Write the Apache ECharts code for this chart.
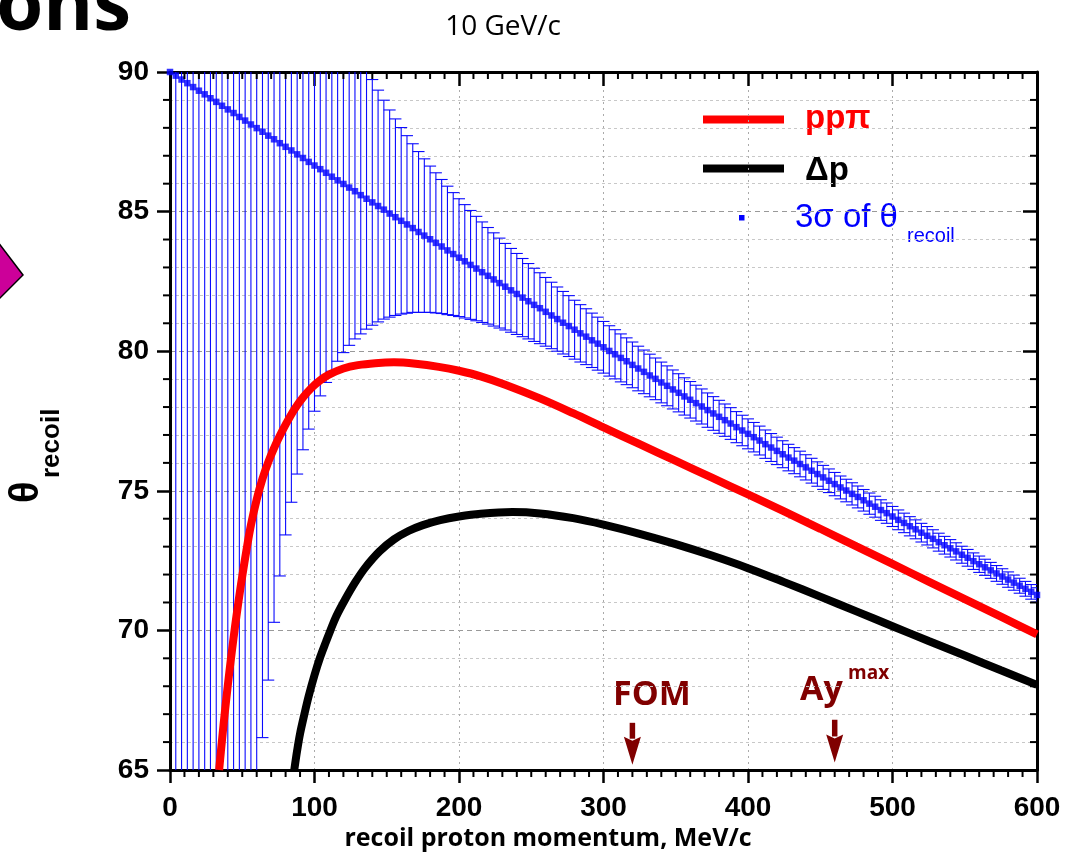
<!DOCTYPE html>
<html><head><meta charset="utf-8">
<script src="https://cdn.jsdelivr.net/npm/echarts@6/dist/echarts.min.js"></script>
<style>html,body{margin:0;padding:0;background:#fff}#c{width:1065px;height:856px}</style>
</head><body><div id="c"></div>
<script>
// ---- data ----
const momentumP = [
  0,4,8,12,16,20,24,28,32,36,
  40,44,48,52,56,60,64,68,72,76,
  80,84,88,92,96,100,104,108,112,116,
  120,124,128,132,136,140,144,148,152,156,
  160,164,168,172,176,180,184,188,192,196,
  200,204,208,212,216,220,224,228,232,236,
  240,244,248,252,256,260,264,268,272,276,
  280,284,288,292,296,300,304,308,312,316,
  320,324,328,332,336,340,344,348,352,356,
  360,364,368,372,376,380,384,388,392,396,
  400,404,408,412,416,420,424,428,432,436,
  440,444,448,452,456,460,464,468,472,476,
  480,484,488,492,496,500,504,508,512,516,
  520,524,528,532,536,540,544,548,552,556,
  560,564,568,572,576,580,584,588,592,596,
  600];
const elasticTheta = [
  90.00,89.87,89.73,89.60,89.46,89.33,89.20,89.06,88.93,88.79,
  88.66,88.53,88.39,88.26,88.12,87.99,87.86,87.72,87.59,87.45,
  87.32,87.19,87.05,86.92,86.78,86.65,86.52,86.39,86.25,86.12,
  85.99,85.86,85.73,85.59,85.46,85.33,85.20,85.07,84.93,84.80,
  84.67,84.54,84.41,84.27,84.14,84.01,83.88,83.75,83.61,83.48,
  83.35,83.22,83.09,82.96,82.83,82.70,82.57,82.44,82.31,82.18,
  82.05,81.92,81.79,81.66,81.54,81.41,81.28,81.15,81.02,80.90,
  80.77,80.64,80.52,80.39,80.27,80.14,80.01,79.89,79.76,79.64,
  79.51,79.38,79.26,79.13,79.01,78.88,78.76,78.63,78.51,78.38,
  78.26,78.14,78.02,77.89,77.77,77.65,77.53,77.41,77.28,77.16,
  77.04,76.92,76.80,76.67,76.55,76.43,76.31,76.19,76.08,75.96,
  75.84,75.72,75.60,75.48,75.36,75.24,75.12,75.01,74.89,74.78,
  74.66,74.54,74.43,74.31,74.20,74.08,73.96,73.85,73.73,73.62,
  73.50,73.39,73.28,73.16,73.05,72.94,72.83,72.71,72.60,72.48,
  72.37,72.26,72.15,72.04,71.93,71.82,71.71,71.60,71.49,71.38,
  71.27];
const elasticSigma3 = [
  null,6670,1600,694,384,242,166,121,92,72,
  58,47.7,39.9,33.8,29.1,25.2,21.7,19.5,17.3,15.5,
  13.9,12.6,11.45,10.45,9.57,8.80,8.12,7.51,6.97,6.48,
  6.04,5.65,5.29,4.97,4.67,4.40,4.15,3.92,3.71,3.52,
  3.34,3.18,3.02,2.88,2.75,2.62,2.51,2.40,2.30,2.20,
  2.11,2.03,1.95,1.87,1.80,1.73,1.67,1.61,1.55,1.50,
  1.45,1.40,1.35,1.31,1.27,1.23,1.19,1.15,1.12,1.09,
  1.055,1.027,1.000,0.974,0.949,0.925,0.902,0.880,0.859,0.838,
  0.819,0.799,0.781,0.763,0.746,0.730,0.714,0.698,0.683,0.668,
  0.654,0.641,0.628,0.615,0.603,0.591,0.579,0.568,0.557,0.546,
  0.536,0.527,0.517,0.508,0.500,0.491,0.483,0.475,0.467,0.459,
  0.452,0.444,0.437,0.430,0.423,0.417,0.410,0.404,0.398,0.392,
  0.386,0.380,0.375,0.369,0.364,0.359,0.354,0.349,0.344,0.339,
  0.334,0.330,0.325,0.321,0.317,0.312,0.308,0.304,0.300,0.296,
  0.293,0.289,0.285,0.282,0.278,0.275,0.271,0.268,0.265,0.262,
  0.258];
const pppiP = [34,36,38,40,42,44,46,48,50,53,56,60,64,68,72,76,80,86,92,98,104,110,120,130,142,155,170,186,200,215,232,256,279,300,325,350,375,400,425,450,475,500,525,550,575,600];
const pppiTheta = [65.0,66.08,67.09,68.03,68.91,69.74,70.52,71.25,71.94,72.9,73.77,74.69,75.43,76.03,76.53,76.97,77.37,77.91,78.34,78.69,78.96,79.16,79.38,79.5,79.57,79.6,79.55,79.44,79.30,79.10,78.80,78.31,77.78,77.27,76.67,76.07,75.47,74.87,74.26,73.64,73.01,72.38,71.75,71.12,70.49,69.86];
const deltaP = [86,88,90,93,96,100,104,108,111,115,121,128,135,145,155,165,175,187,200,215,237,256,279,300,325,350,375,400,425,450,475,500,525,550,575,600];
const deltaTheta = [65.0,65.7,66.3,67.0,67.65,68.4,69.05,69.6,70.0,70.5,71.09,71.71,72.24,72.83,73.26,73.56,73.77,73.95,74.08,74.18,74.24,74.19,74.02,73.79,73.46,73.09,72.68,72.23,71.73,71.21,70.68,70.15,69.62,69.10,68.57,68.05];
const arrowP = [320, 460];
const arrowTop = [66.69, 66.80];
const arrowTip = [65.19, 65.27];
const seriesNames = ['ppπ', 'Δp', '3σ of θ', 'recoil'];
const xRange = [0, 600], xMajor = 100, xMinor = 10;
const yRange = [65, 90], yMajor = 5, yMinor = 1;

// ---- chart ----
const AX = '"Liberation Sans", Arial, sans-serif';
const COMIC = '"Comic Sans MS", "Open Sans", sans-serif';
const DARKRED = '#800000';
const chart = echarts.init(document.getElementById('c'), null, {renderer: 'canvas'});

const blueData = momentumP.map((p, i) => [p, elasticTheta[i], elasticSigma3[i] == null ? NaN : elasticSigma3[i]]);
const redData = pppiP.map((p, i) => [p, pppiTheta[i]]);
const blackData = deltaP.map((p, i) => [p, deltaTheta[i]]);
const arrowData = arrowP.map((p, i) => [p, arrowTop[i], arrowTip[i]]);

const tickLabel = {fontFamily: AX, fontWeight: 'bold', fontSize: 28, color: '#000'};
const axLine = {show: true, onZero: false, lineStyle: {color: '#000', width: 3}};

function majorX(pos, inside, len, labels) {
  return {type: 'value', min: xRange[0], max: xRange[1], interval: xMajor, position: pos,
    axisLine: axLine,
    axisTick: {show: true, inside: inside, length: len, lineStyle: {color: '#000', width: 2.5}},
    minorTick: {show: false},
    axisLabel: labels ? Object.assign({margin: 24, showMinLabel: true, showMaxLabel: true}, tickLabel) : {show: false},
    splitLine: labels ? {show: true, lineStyle: {color: '#aaa', type: [2, 4], width: 1}} : {show: false}};
}
function majorY(pos, inside, len, labels) {
  return {type: 'value', min: yRange[0], max: yRange[1], interval: yMajor, position: pos,
    axisLine: axLine,
    axisTick: {show: true, inside: inside, length: len, lineStyle: {color: '#000', width: 2.5}},
    minorTick: {show: false, splitNumber: yMajor / yMinor},
    axisLabel: labels ? Object.assign({margin: 21, showMinLabel: true, showMaxLabel: true}, tickLabel) : {show: false},
    splitLine: labels ? {show: true, lineStyle: {color: '#999', type: [5, 4], width: 1}} : {show: false},
    minorSplitLine: labels ? {show: true, lineStyle: {color: '#c8c8c8', type: [3, 3], width: 1}} : {show: false}};
}

const graphics = [
  // slide fragments
  {type: 'text', x: 131, y: 8, style: {text: 'ons', font: 'bold 76px ' + COMIC, fill: '#000', textAlign: 'right', textVerticalAlign: 'middle'}},
  {type: 'polygon', shape: {points: [[-2, 242], [23, 275], [-2, 300]]}, style: {fill: '#cc0099', stroke: '#000', lineWidth: 1.5}},
  // title
  {type: 'text', x: 503, y: 27, style: {text: '10 GeV/c', font: '28px ' + COMIC, fill: '#000', textAlign: 'center', textVerticalAlign: 'middle'}},
  // legend
  {type: 'rect', shape: {x: 703, y: 115.5, width: 81, height: 8}, style: {fill: '#ff0000'}},
  {type: 'text', x: 805, y: 119, style: {text: seriesNames[0], font: 'bold 33px ' + AX, fill: '#ff0000', textAlign: 'left', textVerticalAlign: 'middle'}},
  {type: 'rect', shape: {x: 703, y: 164.5, width: 81, height: 8}, style: {fill: '#000'}},
  {type: 'text', x: 805, y: 171, style: {text: seriesNames[1], font: 'bold 33px ' + AX, fill: '#000', textAlign: 'left', textVerticalAlign: 'middle'}},
  {type: 'rect', shape: {x: 739, y: 215, width: 5.5, height: 5.5}, style: {fill: '#0000ff'}},
  {type: 'text', x: 795, y: 218, style: {text: seriesNames[2], font: '33px ' + AX, fill: '#0000ff', textAlign: 'left', textVerticalAlign: 'middle'}},
  {type: 'text', x: 907, y: 236, style: {text: seriesNames[3], font: '20px ' + AX, fill: '#0000ff', textAlign: 'left', textVerticalAlign: 'middle'}},
  // y axis title (rotated)
  {type: 'text', x: 27, y: 503, rotation: Math.PI / 2, style: {text: 'θ', font: 'bold 40px ' + AX, fill: '#000', textAlign: 'left', textVerticalAlign: 'middle'}},
  {type: 'text', x: 52, y: 478, rotation: Math.PI / 2, style: {text: 'recoil', font: 'bold 26px ' + AX, fill: '#000', textAlign: 'left', textVerticalAlign: 'middle'}},
  // x axis title
  {type: 'text', x: 548, y: 839, style: {text: 'recoil proton momentum, MeV/c', font: 'bold 25px ' + COMIC, fill: '#000', textAlign: 'center', textVerticalAlign: 'middle'}},
  // annotations
  {type: 'text', x: 652, y: 695, style: {text: 'FOM', font: 'bold 34px ' + COMIC, fill: DARKRED, textAlign: 'center', textVerticalAlign: 'middle'}},
  {type: 'text', x: 800, y: 690, style: {text: 'Ay', font: 'bold 34px ' + COMIC, fill: DARKRED, textAlign: 'left', textVerticalAlign: 'middle'}},
  {type: 'text', x: 848, y: 674, style: {text: 'max', font: 'bold 19px ' + COMIC, fill: DARKRED, textAlign: 'left', textVerticalAlign: 'middle'}}
];

const option = {
  animation: false,
  backgroundColor: '#fff',
  grid: {left: 170, right: 28, top: 72, bottom: 86, containLabel: false, outerBoundsMode: 'none'},
  xAxis: [majorX('bottom', false, 13, true), majorX('top', true, 14, false)],
  yAxis: [majorY('left', false, 13, true), majorY('right', true, 14, false)],
  series: [
    {name: '3σ bars', type: 'custom', xAxisIndex: 0, yAxisIndex: 0, clip: true, z: 2,
     data: blueData, encode: {x: 0, y: 1},
     renderItem: function (params, api) {
       const x = api.value(0), c = api.value(1), s = api.value(2);
       if (!isFinite(s)) return null;
       const hi = api.coord([x, c + s]);
       const lo = api.coord([x, c - s]);
       const cap = 6;
       const st = {stroke: '#0a0aff', lineWidth: 1.1};
       return {type: 'group', children: [
         {type: 'line', shape: {x1: hi[0], y1: hi[1], x2: lo[0], y2: lo[1]}, style: st},
         {type: 'line', shape: {x1: hi[0] - cap, y1: hi[1], x2: hi[0] + cap, y2: hi[1]}, style: st},
         {type: 'line', shape: {x1: lo[0] - cap, y1: lo[1], x2: lo[0] + cap, y2: lo[1]}, style: st}
       ]};
     }},
    {name: '3σ centre', type: 'scatter', xAxisIndex: 0, yAxisIndex: 0, z: 3,
     symbol: 'rect', symbolSize: 6.5, itemStyle: {color: '#0000ff'},
     data: blueData.map(d => [d[0], d[1]])},
    {name: seriesNames[0], type: 'line', xAxisIndex: 0, yAxisIndex: 0, z: 4, clip: true,
     data: redData, smooth: 0.35, showSymbol: false, symbol: 'none',
     lineStyle: {color: '#ff0000', width: 8}},
    {name: seriesNames[1], type: 'line', xAxisIndex: 0, yAxisIndex: 0, z: 4, clip: true,
     data: blackData, smooth: 0.35, showSymbol: false, symbol: 'none',
     lineStyle: {color: '#000000', width: 8}},
    {name: 'arrows', type: 'custom', xAxisIndex: 0, yAxisIndex: 0, z: 5, clip: false,
     data: arrowData, encode: {x: 0, y: 1},
     renderItem: function (params, api) {
       const top = api.coord([api.value(0), api.value(1)]);
       const tip = api.coord([api.value(0), api.value(2)]);
       const headLen = 28, headW = 17, shaftW = 5.5;
       return {type: 'group', children: [
         {type: 'rect', shape: {x: top[0] - shaftW / 2, y: top[1], width: shaftW, height: tip[1] - headLen - top[1] + 2},
          style: {fill: DARKRED}},
         {type: 'polygon', shape: {points: [[tip[0] - headW / 2, tip[1] - headLen], [tip[0], tip[1] - headLen + 4], [tip[0] + headW / 2, tip[1] - headLen], [tip[0], tip[1]]]},
          style: {fill: DARKRED}}
       ]};
     }}
  ],
  graphic: graphics
};
chart.setOption(option);

// minor ticks on all four frame sides, placed through the axis scales
(function addMinorTicks() {
  const yBot = chart.convertToPixel({yAxisIndex: 0}, yRange[0]);
  const yTop = chart.convertToPixel({yAxisIndex: 0}, yRange[1]);
  const xL = chart.convertToPixel({xAxisIndex: 0}, xRange[0]);
  const xR = chart.convertToPixel({xAxisIndex: 0}, xRange[1]);
  const st = {stroke: '#000', lineWidth: 2};
  const extra = [];
  const nX = Math.round((xRange[1] - xRange[0]) / xMinor);
  for (let i = 0; i <= nX; i++) {
    const v = xRange[0] + i * xMinor;
    if (Math.abs(v / xMajor - Math.round(v / xMajor)) < 1e-6) continue;
    const px = chart.convertToPixel({xAxisIndex: 0}, v);
    extra.push({type: 'line', shape: {x1: px, y1: yBot, x2: px, y2: yBot + 7}, style: st, z: 10});
    extra.push({type: 'line', shape: {x1: px, y1: yTop, x2: px, y2: yTop + 7}, style: st, z: 10});
  }
  const nY = Math.round((yRange[1] - yRange[0]) / yMinor);
  for (let i = 0; i <= nY; i++) {
    const v = yRange[0] + i * yMinor;
    if (Math.abs(v / yMajor - Math.round(v / yMajor)) < 1e-6) continue;
    const py = chart.convertToPixel({yAxisIndex: 0}, v);
    extra.push({type: 'line', shape: {x1: xL - 7, y1: py, x2: xL, y2: py}, style: st, z: 10});
    extra.push({type: 'line', shape: {x1: xR - 7, y1: py, x2: xR, y2: py}, style: st, z: 10});
  }
  chart.setOption({graphic: graphics.concat(extra)});
})();
</script>
</body></html>
